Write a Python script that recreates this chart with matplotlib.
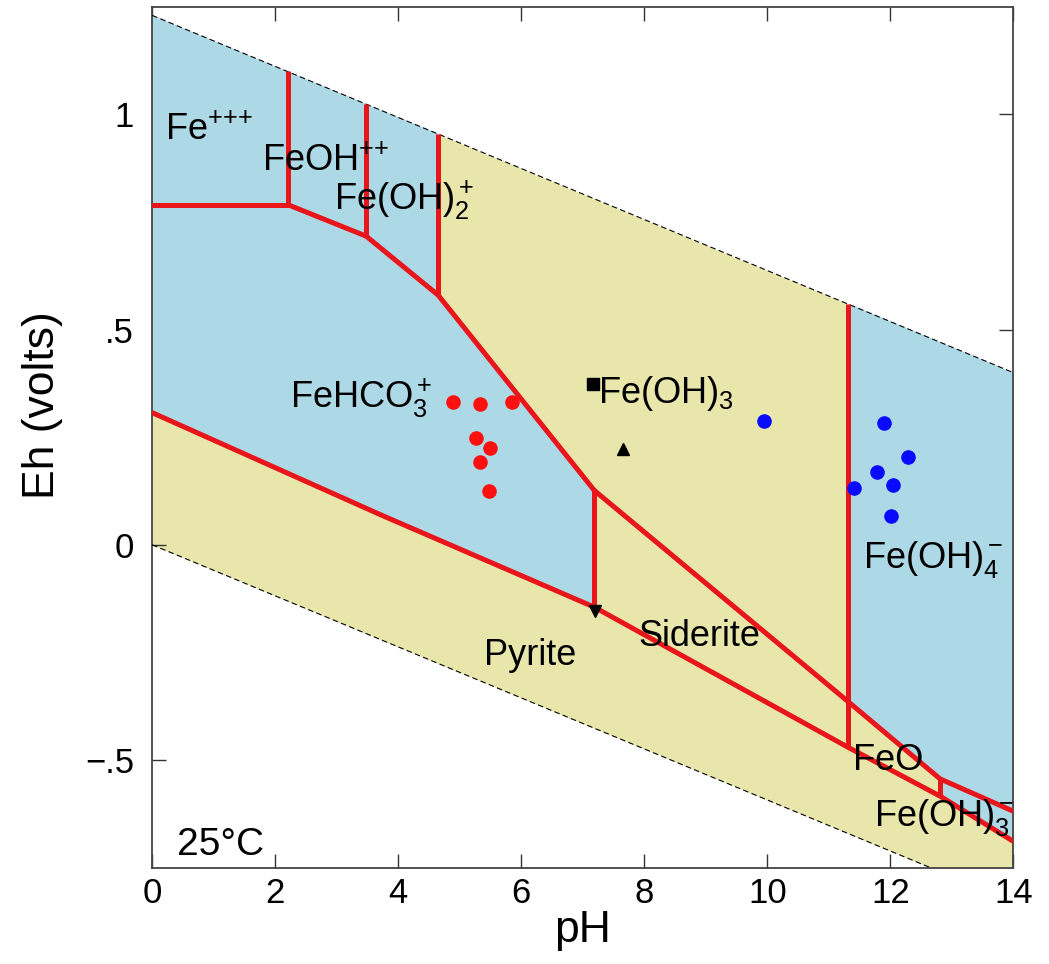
import matplotlib
matplotlib.use('Agg')
import matplotlib.pyplot as plt
import numpy as np

plt.rcParams['font.family'] = ['Liberation Sans', 'DejaVu Sans']
plt.rcParams['mathtext.fontset'] = 'custom'
plt.rcParams['mathtext.rm'] = 'Liberation Sans'
plt.rcParams['mathtext.it'] = 'Liberation Sans:italic'
plt.rcParams['mathtext.bf'] = 'Liberation Sans:bold'

# water stability limits (dashed)
water_ph = [0, 14]
water_upper = [1.23, 0.40]
water_lower = [0.0, -0.83]

# field boundaries (pH, Eh)
fe3_ph, fe3_eh = [0, 2.21], [0.79, 0.79]
feoh_ph, feoh_eh = [2.21, 3.48], [0.79, 0.717]
feoh2_ph, feoh2_eh = [3.48, 4.65], [0.717, 0.58]
hydrox_ph, hydrox_eh = [4.65, 7.19], [0.58, 0.126]
sider_ph = [7.19, 11.32, 12.81, 14]
sider_eh = [0.126, -0.365, -0.544, -0.619]
pyr_ph = [0, 3.71, 7.19, 11.32, 12.81, 14]
pyr_eh = [0.307, 0.07, -0.145, -0.471, -0.584, -0.689]
vert_ph = [2.21, 3.48, 4.65, 7.19, 11.32, 12.81]
vert_top = [1.10, 1.025, 0.955, 0.126, 0.56, -0.544]
vert_bot = [0.79, 0.717, 0.58, -0.155, -0.471, -0.584]

# samples
red_ph = [4.89, 5.33, 5.85, 5.27, 5.50, 5.33, 5.48]
red_eh = [0.332, 0.327, 0.332, 0.248, 0.224, 0.192, 0.124]
blue_ph = [9.94, 11.89, 12.29, 11.78, 12.04, 11.41, 12.01]
blue_eh = [0.288, 0.284, 0.204, 0.168, 0.138, 0.133, 0.066]
sq_ph, sq_eh = 7.17, 0.373
up_ph, up_eh = 7.65, 0.222
dn_ph, dn_eh = 7.20, -0.155

labels = ['Fe$^{{+}{+}{+}}$', 'FeOH$^{{+}{+}}$', 'Fe(OH)$_2^+$', 'FeHCO$_3^+$', 'Fe(OH)$_3$',
          'Fe(OH)$_4^-$', 'Pyrite', 'Siderite', 'FeO', 'Fe(OH)$_3^-$', '25\u00b0C']
label_ph = [0.21, 1.78, 2.96, 2.24, 7.25, 11.56, 5.40, 7.90, 11.40, 11.74, 0.41]
label_eh = [0.942, 0.869, 0.778, 0.318, 0.329, -0.054, -0.280, -0.234, -0.523, -0.654, -0.72]
label_size = [26, 26, 26, 26, 26, 26, 26, 26, 26, 26, 28]

blue = '#add8e6'
yellow = '#e8e6aa'
red = '#e8151b'

fig = plt.figure(figsize=(10.49, 9.64), dpi=100)
ax = fig.add_axes([0.145, 0.1, 0.821, 0.893])

ax.fill_between(water_ph, water_upper, water_lower, color=yellow, lw=0, zorder=1)

# acid aqueous field
p1 = [(water_ph[0], water_upper[0]), (feoh2_ph[1], vert_top[2])]
p1 += list(zip(hydrox_ph, hydrox_eh))
p1 += [(x, y) for x, y in zip(pyr_ph[:3][::-1], pyr_eh[:3][::-1])]
ax.fill(*zip(*p1), color=blue, lw=0, zorder=2)

# alkaline aqueous field
p2 = [(vert_ph[4], vert_top[4]), (water_ph[1], water_upper[1]), (pyr_ph[-1], pyr_eh[-1]),
      (pyr_ph[-2], pyr_eh[-2]), (sider_ph[2], sider_eh[2]), (sider_ph[1], sider_eh[1])]
ax.fill(*zip(*p2), color=blue, lw=0, zorder=2)

ax.plot(water_ph, water_upper, 'k--', lw=0.8, dashes=(5, 3), zorder=3)
ax.plot(water_ph, water_lower, 'k--', lw=0.8, dashes=(5, 3), zorder=3)

lw = 3.6
for xs, ys in [(fe3_ph, fe3_eh), (feoh_ph, feoh_eh), (feoh2_ph, feoh2_eh),
               (hydrox_ph, hydrox_eh), (sider_ph, sider_eh), (pyr_ph, pyr_eh)]:
    ax.plot(xs, ys, color=red, lw=lw, solid_capstyle='round', zorder=4)
ax.vlines(vert_ph, vert_bot, vert_top, color=red, lw=lw, zorder=4)

ax.plot(red_ph, red_eh, 'o', color='#ff1010', ms=10.5, mew=0, zorder=5)
ax.plot(blue_ph, blue_eh, 'o', color='#0a0aff', ms=10.5, mew=0, zorder=5)
ax.plot(sq_ph, sq_eh, 's', color='k', ms=8, zorder=5)
ax.plot(up_ph, up_eh, '^', color='k', ms=8, zorder=5)
ax.plot(dn_ph, dn_eh, 'v', color='k', ms=8, zorder=5)

for t, x, y, s in zip(labels, label_ph, label_eh, label_size):
    ax.text(x, y, t, fontsize=s, ha='left', va='baseline', zorder=6)

ax.set_xlim(0, 14)
ax.set_ylim(-0.75, 1.25)
ax.set_xticks(range(0, 15, 2))
ax.set_yticks([-0.5, 0, 0.5, 1])
ax.set_yticklabels(['\u2212.5', '0', '.5', '1'])
ax.tick_params(direction='in', top=True, right=True, length=10, width=1,
               labelsize=25, color='#333333')
ax.tick_params(axis='x', pad=7)
ax.tick_params(axis='y', pad=13)
for s in ax.spines.values():
    s.set_color('#444444')
    s.set_linewidth(1.3)

ax.set_xlabel('pH', fontsize=32, labelpad=0)
ax.set_ylabel('Eh (volts)', fontsize=32)
ax.yaxis.set_label_coords(-0.104, 0.537)

fig.savefig('out.png', dpi=100)
